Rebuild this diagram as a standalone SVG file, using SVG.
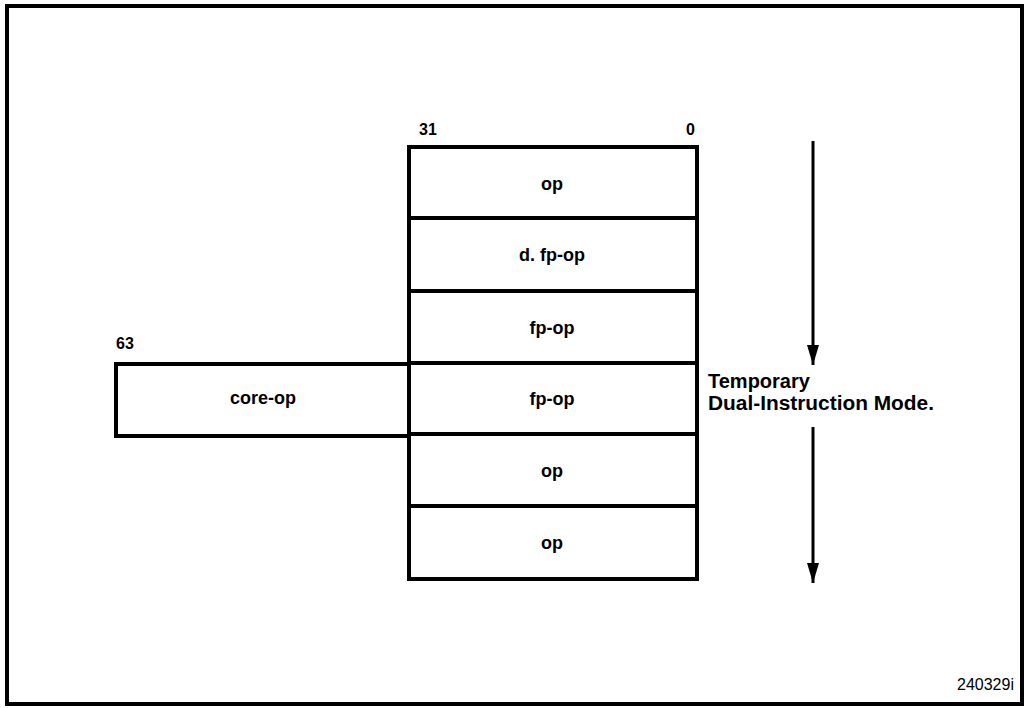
<svg xmlns="http://www.w3.org/2000/svg" width="1027" height="708" viewBox="0 0 1027 708">
<style>
.box{fill:none;stroke:#000;stroke-width:4}
.t{font-family:"Liberation Sans",Arial,sans-serif;font-weight:bold;fill:#000}
.c{font-size:18px;text-anchor:middle}
.n{font-size:16px}
.m{font-size:20px}
.ln{stroke:#000;stroke-width:3;fill:none}
</style>
<defs>
<marker id="ah" viewBox="0 0 20 12" refX="20" refY="6" markerWidth="20" markerHeight="12" markerUnits="userSpaceOnUse" orient="auto">
<path d="M0,0 L20,6 L0,12 Z" fill="#000"/>
</marker>
</defs>
<rect x="7" y="6" width="1015" height="698" class="box" stroke-width="3"/>
<g id="labels">
<text class="t n" x="419" y="135">31</text>
<text class="t n" x="686" y="135">0</text>
<text class="t n" x="116" y="349">63</text>
<text x="957" y="690" style="font-family:'Liberation Sans',Arial,sans-serif;font-size:16px;fill:#000">240329i</text>
</g>
<g id="row1"><rect class="box" x="409" y="147" width="288" height="71"/><text class="t c" x="552" y="190">op</text></g>
<g id="row2"><rect class="box" x="409" y="218" width="288" height="73"/><text class="t c" x="552" y="261">d. fp-op</text></g>
<g id="row3"><rect class="box" x="409" y="291" width="288" height="72"/><text class="t c" x="552" y="334">fp-op</text></g>
<g id="row4"><rect class="box" x="409" y="363" width="288" height="71"/><text class="t c" x="552" y="405">fp-op</text></g>
<g id="core"><rect class="box" x="116" y="364" width="293" height="72"/><text class="t c" x="263" y="404">core-op</text></g>
<g id="row5"><rect class="box" x="409" y="434" width="288" height="72"/><text class="t c" x="552" y="477">op</text></g>
<g id="row6"><rect class="box" x="409" y="506" width="288" height="73"/><text class="t c" x="552" y="549">op</text></g>
<g id="mode"><text class="t m" x="708" y="388">Temporary</text><text class="t m" x="708" y="410" textLength="226" lengthAdjust="spacingAndGlyphs">Dual-Instruction Mode.</text></g>
<g id="connectors">
<line class="ln" x1="813" y1="141" x2="813" y2="365" marker-end="url(#ah)"/>
<line class="ln" x1="813" y1="427" x2="813" y2="583" marker-end="url(#ah)"/>
</g>
</svg>
